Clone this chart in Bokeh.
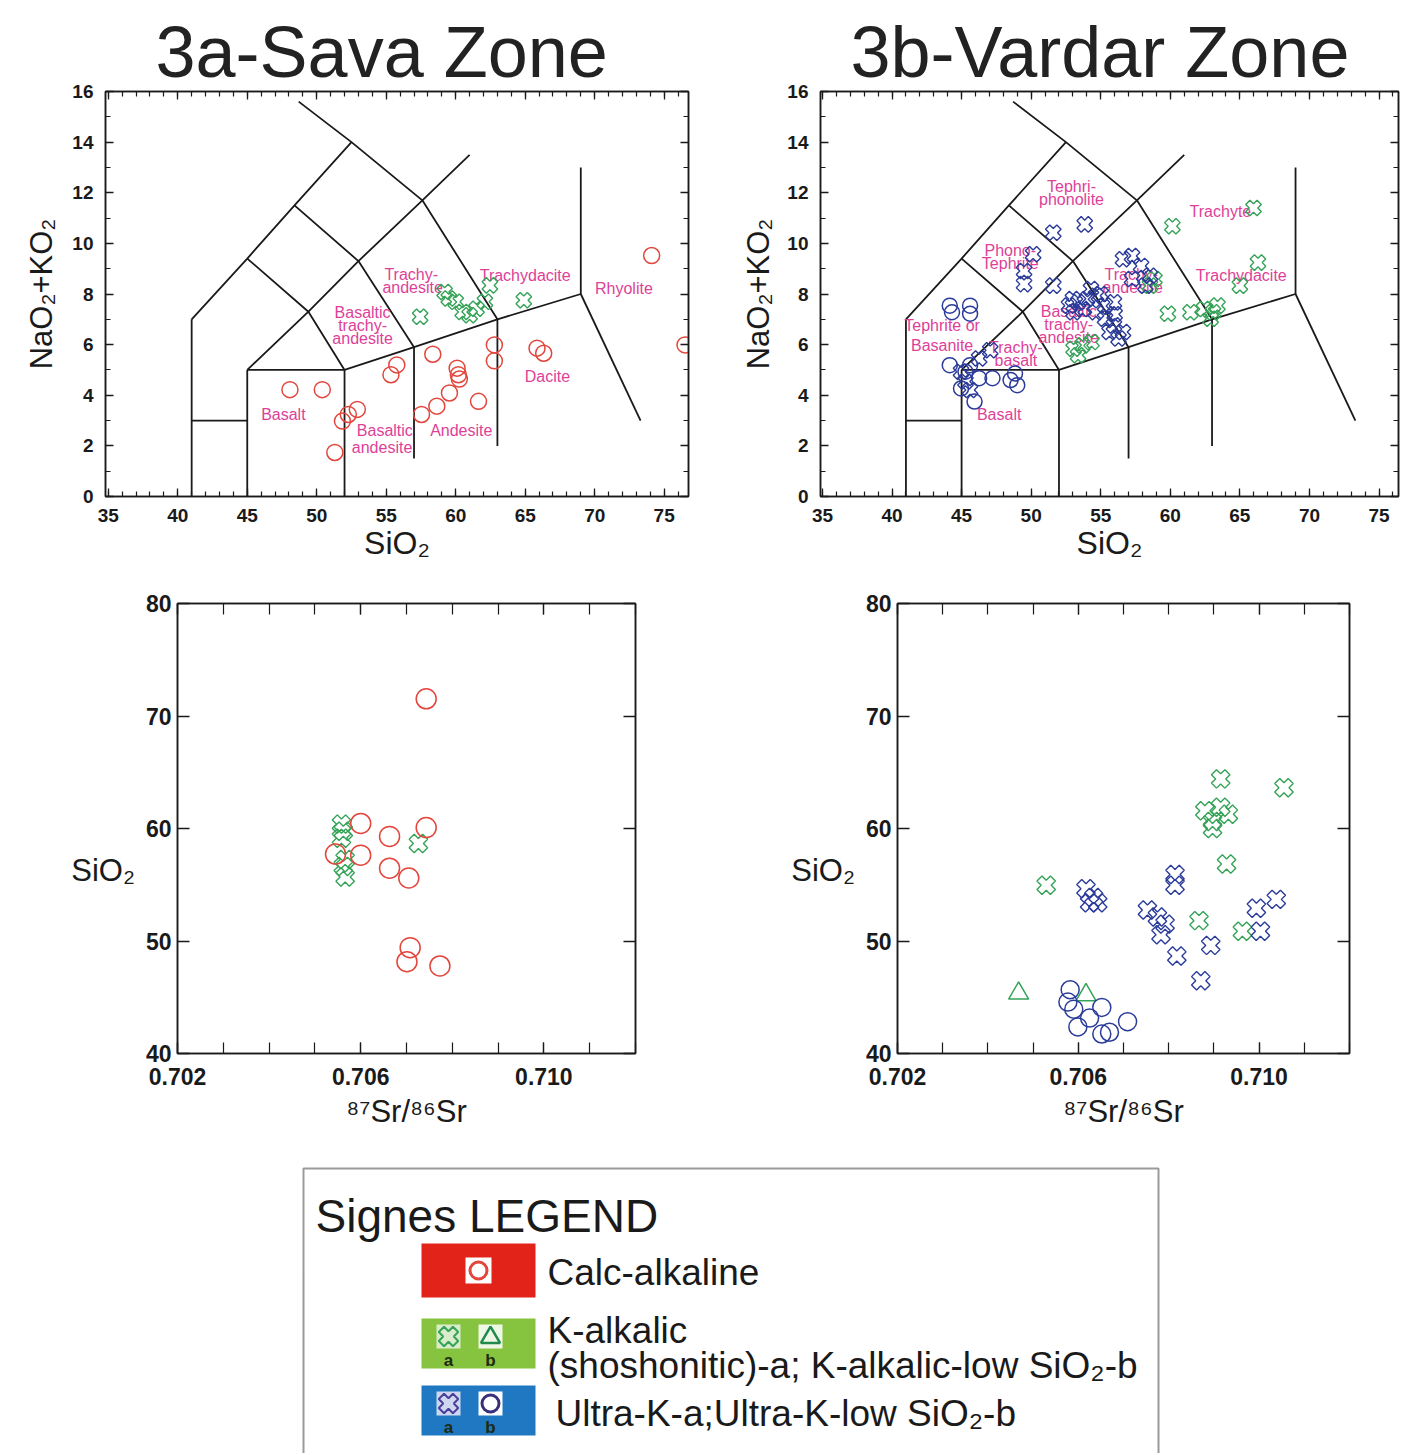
import numpy as np
from bokeh.plotting import figure
from bokeh.layouts import column, row
from bokeh.models import Range1d, LinearAxis, FixedTicker
from bokeh.embed import file_html
from bokeh.resources import INLINE
from bokeh.core.properties import value

# ---------------- data ----------------
# TAS field boundaries (SiO2, Na2O+K2O)
TAS_LINES = [
    ([41, 41], [0, 7]),
    ([41, 45], [3, 3]),
    ([45, 45], [0, 5]),
    ([45, 52], [5, 5]),
    ([52, 52], [0, 5]),
    ([52, 57, 63, 69], [5, 5.9, 7, 8]),
    ([57, 57], [1.5, 5.9]),
    ([63, 63], [2, 7]),
    ([69, 69], [8, 13]),
    ([69, 73.3], [8, 3]),
    ([41, 45, 48.4, 52.5], [7, 9.4, 11.5, 14]),
    ([48.7, 52.5, 57.6, 63], [15.6, 14, 11.7, 7]),
    ([45, 49.4, 53, 57.6, 61], [5, 7.3, 9.3, 11.7, 13.5]),
    ([45, 49.4, 52], [9.4, 7.3, 5]),
    ([48.4, 53, 57], [11.5, 9.3, 5.9]),
]

SAVA_TAS_LABELS = ["Basalt", "Basaltic", "andesite", "Andesite", "Dacite", "Rhyolite",
                   "Trachydacite", "Trachy-", "andesite", "Basaltic", "trachy-", "andesite"]
SAVA_TAS_LABEL_X = [47.6, 54.9, 54.7, 60.4, 66.6, 72.1, 65.0, 56.8, 56.9, 53.3, 53.3, 53.3]
SAVA_TAS_LABEL_Y = [3.25, 2.6, 1.95, 2.6, 4.75, 8.23, 8.75, 8.78, 8.27, 7.25, 6.75, 6.24]

VARDAR_TAS_LABELS = ["Tephri-", "phonolite", "Trachyte", "Phono-", "Tephrite", "Trachy-", "andesite",
                     "Trachydacite", "Tephrite or", "Basanite", "Trachy-", "basalt",
                     "Basaltic", "trachy-", "andesite", "Basalt"]
VARDAR_TAS_LABEL_X = [52.9, 52.9, 63.6, 48.5, 48.5, 57.2, 57.3, 65.1, 43.6, 43.6, 48.9, 48.9,
                      52.7, 52.7, 52.7, 47.7]
VARDAR_TAS_LABEL_Y = [12.24, 11.73, 11.25, 9.73, 9.2, 8.78, 8.27, 8.75, 6.75, 5.96, 5.88, 5.37,
                      7.29, 6.78, 6.27, 3.22]

# Sava zone, TAS
SAVA_TAS_CA_SIO2 = [48.07, 50.4, 55.34, 55.76, 58.35, 60.1, 60.19, 60.26, 59.55, 58.64, 57.54,
                    61.64, 62.78, 62.78, 65.85, 66.33, 74.1, 76.5, 52.92, 52.27, 51.85, 51.3]
SAVA_TAS_CA_ALK = [4.22, 4.22, 4.81, 5.20, 5.62, 5.07, 4.81, 4.64, 4.09, 3.57, 3.24,
                   3.76, 5.99, 5.36, 5.86, 5.66, 9.52, 5.99, 3.44, 3.24, 2.98, 1.74]
SAVA_TAS_KA_SIO2 = [57.44, 59.2, 59.5, 60.0, 60.5, 61.0, 61.5, 62.1, 62.46, 64.9]
SAVA_TAS_KA_ALK = [7.10, 8.08, 7.82, 7.69, 7.29, 7.16, 7.42, 7.69, 8.34, 7.75]

# Vardar zone, TAS
VARDAR_TAS_UKA_SIO2 = [51.59, 53.85, 50.14, 49.49, 49.49, 51.59, 52.72, 53.37, 54.01, 54.66, 55.31,
                       55.95, 54.66, 55.31, 55.95, 56.6, 55.63, 53.69, 53.05, 56.6, 57.25, 57.9,
                       58.54, 57.25, 58.21, 56.28, 44.96, 45.28, 45.61, 46.26, 47.06,
                       54.3, 55.0, 56.0, 53.0]
VARDAR_TAS_UKA_ALK = [10.42, 10.75, 9.57, 8.91, 8.39, 8.33, 7.54, 7.67, 7.80, 7.93, 7.54,
                      7.67, 7.28, 7.02, 6.76, 6.5, 6.5, 7.41, 7.28, 9.37, 9.5, 9.11,
                      8.72, 8.59, 8.33, 6.24, 4.93, 4.54, 4.21, 5.45, 5.78,
                      8.2, 8.0, 7.2, 7.8]
VARDAR_TAS_UKB_SIO2 = [44.15, 44.31, 45.61, 45.61, 44.15, 45.28, 44.96, 45.93, 47.22, 48.84, 49.0,
                       48.52, 46.26, 45.61]
VARDAR_TAS_UKB_ALK = [7.54, 7.28, 7.54, 7.22, 5.19, 4.93, 4.27, 3.75, 4.67, 4.86, 4.40,
                      4.6, 4.67, 5.19]
VARDAR_TAS_KA_SIO2 = [60.15, 65.98, 66.3, 65.0, 59.83, 61.45, 62.42, 63.07, 63.39, 62.9,
                      53.05, 53.69, 54.34, 53.37, 58.54, 58.86]
VARDAR_TAS_KA_ALK = [10.68, 11.4, 9.24, 8.33, 7.22, 7.28, 7.41, 7.28, 7.54, 7.02,
                     5.84, 5.97, 6.1, 5.58, 8.33, 8.59]

# Sava zone, 87Sr/86Sr vs SiO2
SAVA_SR_CA_SR = [0.70743, 0.7060, 0.70545, 0.7060, 0.70663, 0.70743, 0.70663, 0.70705,
                 0.70708, 0.70701, 0.70773]
SAVA_SR_CA_SIO2 = [71.53, 60.45, 57.73, 57.63, 59.3, 60.08, 56.47, 55.6, 49.41, 48.16, 47.78]
SAVA_SR_KA_SR = [0.70558, 0.70562, 0.70558, 0.70566, 0.70562, 0.70566, 0.70726]
SAVA_SR_KA_SIO2 = [60.39, 59.76, 59.14, 57.25, 56.63, 55.69, 58.67]

# Vardar zone, 87Sr/86Sr vs SiO2
VARDAR_SR_KA_SR = [0.70529, 0.70915, 0.71055, 0.7088, 0.70897, 0.70915, 0.70932, 0.70897,
                   0.70928, 0.70867, 0.70963]
VARDAR_SR_KA_SIO2 = [54.96, 64.41, 63.62, 61.57, 60.63, 61.89, 61.26, 60.0, 56.85, 51.81, 50.87]
VARDAR_SR_UKA_SR = [0.70617, 0.70634, 0.70643, 0.70625, 0.70753, 0.70775, 0.70792, 0.70783,
                    0.70814, 0.70814, 0.70818, 0.70871, 0.70893, 0.70994, 0.71038, 0.71003]
VARDAR_SR_UKA_SIO2 = [54.65, 53.86, 53.39, 53.39, 52.76, 52.13, 51.5, 50.55,
                      55.91, 54.96, 48.66, 46.46, 49.61, 52.91, 53.7, 50.87]
VARDAR_SR_KB_SR = [0.70468, 0.70617]
VARDAR_SR_KB_SIO2 = [45.35, 45.2]
VARDAR_SR_UKB_SR = [0.70582, 0.70577, 0.7059, 0.70599, 0.70625, 0.70652, 0.70652, 0.70669, 0.70709]
VARDAR_SR_UKB_SIO2 = [45.67, 44.57, 43.94, 42.36, 43.15, 44.1, 41.73, 41.89, 42.83]

TAS_X_TICKS = [35, 40, 45, 50, 55, 60, 65, 70, 75]
TAS_Y_TICKS = [0, 2, 4, 6, 8, 10, 12, 14, 16]
SR_X_TICKS = [0.702, 0.706, 0.710]
SR_X_TICK_LABELS = ["0.702", "0.706", "0.710"]
SR_Y_TICKS = [40, 50, 60, 70, 80]

LEGEND_TITLE = "Signes LEGEND"
LEGEND_TEXTS = ["Calc-alkaline", "K-alkalic", "(shoshonitic)-a; K-alkalic-low SiO₂-b",
                "Ultra-K-a;Ultra-K-low SiO₂-b"]

# ---------------- style ----------------
FONT = "Liberation Sans"
RED = "#e2463c"
GREEN = "#34a357"
BLUE = "#2b3b9a"
MAGENTA = "#de3f98"
INK = "#1a1a1a"


def style_axis(ax, label_size, standoff, show_labels=True):
    ax.axis_line_color = INK
    ax.axis_line_width = 1.5
    ax.major_tick_line_color = INK
    ax.minor_tick_line_color = INK
    ax.major_tick_line_width = 1.3
    ax.minor_tick_line_width = 1.2
    ax.major_tick_in = 8
    ax.major_tick_out = 0
    ax.minor_tick_in = 5
    ax.minor_tick_out = 0
    ax.major_label_text_font = FONT
    ax.major_label_text_font_style = "bold"
    ax.major_label_text_color = INK
    ax.major_label_standoff = standoff
    ax.axis_label_text_font = FONT
    ax.axis_label_text_font_style = "normal"
    ax.axis_label_text_color = INK
    if show_labels:
        ax.major_label_text_font_size = label_size
    else:
        ax.major_label_text_font_size = "0px"
        ax.major_label_standoff = standoff


def base_fig(w, h, xr, yr, borders, title=None, title_offset=0):
    p = figure(width=w, height=h, x_range=Range1d(*xr), y_range=Range1d(*yr),
               output_backend="svg", toolbar_location=None,
               min_border_left=borders[0], min_border_right=borders[1],
               min_border_top=borders[2], min_border_bottom=borders[3])
    p.grid.visible = False
    p.outline_line_color = INK
    p.outline_line_width = 1.5
    p.background_fill_color = "white"
    p.border_fill_color = "white"
    if title:
        p.title.text = title
        p.title.align = "left"
        p.title.offset = title_offset
        p.title.text_font = FONT
        p.title.text_font_size = "72px"
        p.title.text_font_style = "normal"
        p.title.text_color = "#222222"
        p.title.text_line_height = 1.0
        p.title.standoff = 0
    return p


def tas_fig(w, h, xr, borders, title, title_offset, top_pad, ylab_standoff, labels, lx, ly):
    p = base_fig(w, h, xr, (0, 16), borders, title, title_offset)
    xt = FixedTicker(ticks=TAS_X_TICKS, minor_ticks=list(range(35, 78)))
    yt = FixedTicker(ticks=TAS_Y_TICKS, minor_ticks=list(range(0, 17)))
    p.xaxis.ticker = xt
    p.yaxis.ticker = yt
    style_axis(p.xaxis[0], "19px", 12)
    style_axis(p.yaxis[0], "19px", 12)
    p.xaxis.axis_label = "SiO₂"
    p.xaxis.axis_label_text_font_size = "32px"
    p.xaxis.axis_label_standoff = 0
    p.yaxis.axis_label = "NaO₂+KO₂"
    p.yaxis.axis_label_text_font_size = "31px"
    p.yaxis.axis_label_standoff = ylab_standoff
    top = LinearAxis(ticker=FixedTicker(ticks=TAS_X_TICKS, minor_ticks=list(range(35, 78))))
    right = LinearAxis(ticker=FixedTicker(ticks=TAS_Y_TICKS, minor_ticks=list(range(0, 17))))
    style_axis(top, "0px", top_pad, False)
    style_axis(right, "0px", 0, False)
    p.add_layout(top, "above")
    p.add_layout(right, "right")
    for xs, ys in TAS_LINES:
        p.line(xs, ys, line_color=INK, line_width=1.8)
    p.text(x=lx, y=ly, text=labels, text_font=value(FONT), text_font_size="16px",
           text_color=MAGENTA, text_align="center", text_baseline="middle")
    return p


def sr_fig(w, h, borders):
    p = base_fig(w, h, (0.702, 0.712), (40, 80), borders)
    minor = [round(0.702 + 0.001 * i, 3) for i in range(11)]
    p.xaxis.ticker = FixedTicker(ticks=SR_X_TICKS, minor_ticks=minor)
    p.xaxis.major_label_overrides = {t: s for t, s in zip(SR_X_TICKS, SR_X_TICK_LABELS)}
    p.yaxis.ticker = FixedTicker(ticks=SR_Y_TICKS)
    style_axis(p.xaxis[0], "23px", 14)
    style_axis(p.yaxis[0], "23px", 6)
    p.xaxis.major_tick_in = 11
    p.xaxis.minor_tick_in = 11
    p.yaxis.major_tick_in = 12
    p.xaxis.axis_label = "⁸⁷Sr/⁸⁶Sr"
    p.xaxis.axis_label_text_font_size = "31px"
    p.xaxis.axis_label_standoff = 6
    # horizontal y-axis title, sitting a little below the frame centre
    p.yaxis.axis_label = "\n\nSiO₂"
    p.yaxis.axis_label_text_font_size = "31px"
    p.yaxis.axis_label_standoff = 8
    p.yaxis.axis_label_orientation = "horizontal"
    top = LinearAxis(ticker=FixedTicker(ticks=SR_X_TICKS, minor_ticks=minor))
    right = LinearAxis(ticker=FixedTicker(ticks=SR_Y_TICKS))
    style_axis(top, "0px", 0, False)
    style_axis(right, "0px", 0, False)
    top.major_tick_in = 11
    top.minor_tick_in = 11
    right.major_tick_in = 12
    p.add_layout(top, "above")
    p.add_layout(right, "right")
    return p


def circles(p, x, y, color, size):
    p.scatter(x, y, marker="circle", size=size, fill_color=None, line_color=color, line_width=1.5)


def crosses(p, x, y, color, size):
    p.scatter(x, y, marker="plus", angle=np.pi / 4, size=size, fill_color=None,
              line_color=color, line_width=1.4)


def triangles(p, x, y, color, size):
    p.scatter(x, y, marker="triangle", size=size, fill_color=None, line_color=color, line_width=1.5)


# ---------------- panels ----------------
tl = tas_fig(700, 575, (34.8, 76.75), (105, 12, 88, 79), "3a-Sava Zone", 50, 6, 10,
             SAVA_TAS_LABELS, SAVA_TAS_LABEL_X, SAVA_TAS_LABEL_Y)
circles(tl, SAVA_TAS_CA_SIO2, SAVA_TAS_CA_ALK, RED, 16)
crosses(tl, SAVA_TAS_KA_SIO2, SAVA_TAS_KA_ALK, GREEN, 16)

tr = tas_fig(700, 575, (34.86, 76.4), (120, 2, 91, 76), "3b-Vardar Zone", 30, 9, 8,
             VARDAR_TAS_LABELS, VARDAR_TAS_LABEL_X, VARDAR_TAS_LABEL_Y)
crosses(tr, VARDAR_TAS_KA_SIO2, VARDAR_TAS_KA_ALK, GREEN, 16)
crosses(tr, VARDAR_TAS_UKA_SIO2, VARDAR_TAS_UKA_ALK, BLUE, 16)
circles(tr, VARDAR_TAS_UKB_SIO2, VARDAR_TAS_UKB_ALK, BLUE, 15)

bl = sr_fig(700, 585, (177, 65, 28, 107))
crosses(bl, SAVA_SR_KA_SR, SAVA_SR_KA_SIO2, GREEN, 19)
circles(bl, SAVA_SR_CA_SR, SAVA_SR_CA_SIO2, RED, 20)

br = sr_fig(700, 585, (197, 51, 28, 107))
crosses(br, VARDAR_SR_KA_SR, VARDAR_SR_KA_SIO2, GREEN, 19)
crosses(br, VARDAR_SR_UKA_SR, VARDAR_SR_UKA_SIO2, BLUE, 19)
triangles(br, VARDAR_SR_KB_SR, VARDAR_SR_KB_SIO2, GREEN, 20)
circles(br, VARDAR_SR_UKB_SR, VARDAR_SR_UKB_SIO2, BLUE, 18)

# ---------------- legend panel (pixel space) ----------------
LW, LH = 1400, 293
lg = figure(width=LW, height=LH, x_range=Range1d(0, LW), y_range=Range1d(LH, 0),
            output_backend="svg", toolbar_location=None,
            min_border=0)
lg.axis.visible = False
lg.grid.visible = False
lg.outline_line_color = None
OX = 8  # horizontal offset of the legend panel content
# box (three sides, continues past the bottom)
lg.line([OX + 295, OX + 295, OX + 1150, OX + 1150], [320, 8, 8, 320], line_color="#9a9a9a",
        line_width=2)
lg.text(x=[OX + 307], y=[55], text=[LEGEND_TITLE], text_font=value(FONT), text_font_size="46px",
        text_color=INK, text_baseline="middle", text_align="left")
# colour boxes
lg.quad(left=[OX + 413] * 3, right=[OX + 527] * 3, top=[83, 158, 225], bottom=[137, 208, 275],
        fill_color=["#e2231a", "#86c440", "#1f78c1"], line_color=None)
# symbol backgrounds
lg.rect(x=[OX + 470, OX + 440, OX + 482, OX + 440, OX + 482], y=[110, 176, 176, 243, 243],
        width=[26, 24, 24, 24, 24], height=[26, 24, 24, 24, 24],
        fill_color=["white", "#d8eccb", "#eef7e6", "#cfd7f0", "white"], line_color=None)
lg.scatter([OX + 470], [110], marker="circle", size=17, fill_color=None, line_color=RED, line_width=3)
lg.scatter([OX + 440], [176], marker="plus", angle=np.pi / 4, size=20, fill_color=None,
           line_color=GREEN, line_width=2)
lg.scatter([OX + 482], [177], marker="triangle", size=19, fill_color=None, line_color="#1f8a4c",
           line_width=2.5)
lg.scatter([OX + 440], [243], marker="plus", angle=np.pi / 4, size=20, fill_color=None,
           line_color="#4a3e9a", line_width=2)
lg.scatter([OX + 482], [243], marker="circle", size=17, fill_color=None, line_color="#3a2f7a",
           line_width=3)
lg.text(x=[OX + 440, OX + 482, OX + 440, OX + 482], y=[200, 200, 267, 267], text=["a", "b", "a", "b"],
        text_font=value(FONT), text_font_size="17px", text_font_style="bold",
        text_color="#1d2a10", text_align="center", text_baseline="middle")
lg.text(x=[OX + 539, OX + 539, OX + 539, OX + 547], y=[112, 170, 205, 253], text=LEGEND_TEXTS,
        text_font=value(FONT), text_font_size="37px", text_color=INK,
        text_align="left", text_baseline="middle")

layout = column(row(tl, tr, spacing=0), row(bl, br, spacing=0), lg, spacing=0)

open("out.html", "w").write(file_html(layout, INLINE))
